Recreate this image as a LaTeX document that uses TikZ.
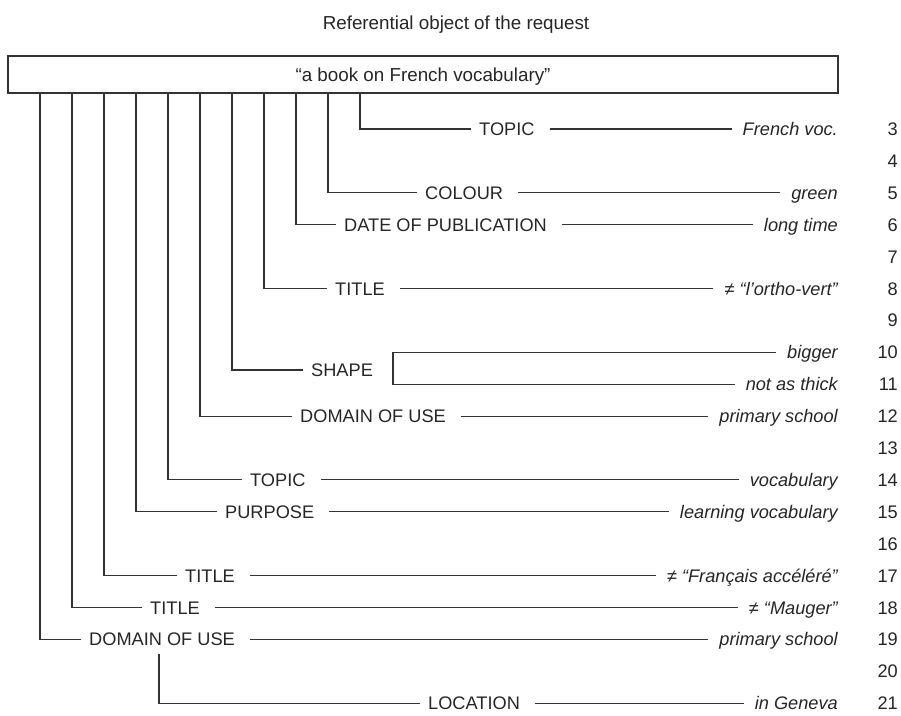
\documentclass[tikz,border=0pt]{standalone}
\usepackage{fontspec}
\setmainfont{Liberation Sans}
\begin{document}
\begin{tikzpicture}[x=1pt,y=-1pt,
  every node/.style={inner sep=0pt, text height=13pt, text depth=0pt, font=\fontsize{18.2}{21}\selectfont, text=black!85},
  lab/.style={anchor=west},
  val/.style={anchor=east, font=\fontsize{18.2}{21}\selectfont\itshape},
  num/.style={anchor=east},
  big/.style={font=\fontsize{18.8}{22}\selectfont},
  conn/.style={line width=1.1pt, draw=black!80}]
\useasboundingbox (0,0) rectangle (901,715);

\node[big] (title) at (456,22.5) {Referential object of the request};
\node[big, draw=black!80, line width=1.1pt, minimum width=830pt, minimum height=37pt] (box) at (423,74.5) {“a book on French vocabulary”};

% row numbers
\foreach \n in {3,...,21} {
  \node[num] (n\n) at (898,{33.3+31.9*\n}) {\n};
}

% labels
\node[lab] (l3)  at (479,129.0) {TOPIC};
\node[lab] (l5)  at (425,192.8) {COLOUR};
\node[lab] (l6)  at (344,224.7) {DATE OF PUBLICATION};
\node[lab] (l8)  at (335,288.5) {TITLE};
\node[lab] (l10) at (311,370) {SHAPE};
\node[lab] (l12) at (300,416.1) {DOMAIN OF USE};
\node[lab] (l14) at (250,479.9) {TOPIC};
\node[lab] (l15) at (225,511.8) {PURPOSE};
\node[lab] (l17) at (185,575.6) {TITLE};
\node[lab] (l18) at (150,607.5) {TITLE};
\node[lab] (l19) at (89,639.4)  {DOMAIN OF USE};
\node[lab] (l21) at (428,703.2) {LOCATION};

% values
\node[val] (v3)  at (838,129.0) {French voc.};
\node[val] (v5)  at (838,192.8) {green};
\node[val] (v6)  at (838,224.7) {long time};
\node[val] (v8)  at (838,288.5) {≠ “l’ortho-vert”};
\node[val] (v10) at (838,352.3) {bigger};
\node[val] (v11) at (838,384.2) {not as thick};
\node[val] (v12) at (838,416.1) {primary school};
\node[val] (v14) at (838,479.9) {vocabulary};
\node[val] (v15) at (838,511.8) {learning vocabulary};
\node[val] (v17) at (838,575.6) {≠ “Français accéléré”};
\node[val] (v18) at (838,607.5) {≠ “Mauger”};
\node[val] (v19) at (838,639.4) {primary school};
\node[val] (v21) at (838,703.2) {in Geneva};

% branch x positions
\coordinate (c3)  at (360,0);
\coordinate (c5)  at (328,0);
\coordinate (c6)  at (296,0);
\coordinate (c8)  at (264,0);
\coordinate (c10) at (232,0);
\coordinate (c12) at (200,0);
\coordinate (c14) at (168,0);
\coordinate (c15) at (136,0);
\coordinate (c17) at (104,0);
\coordinate (c18) at (72,0);
\coordinate (c19) at (40,0);
\coordinate (c21) at (159,0);
\coordinate (br)  at (393,370);

% connectors from the box to the labels
\foreach \r in {3,5,6,8,10,12,14,15,17,18,19} {
  \draw[conn] (box.south -| c\r) |- ([xshift=-8pt]l\r.west);
}
\draw[conn] ([yshift=-8pt]l19.south -| c21) |- ([xshift=-8pt]l21.west);

% connectors from the labels to the values
\foreach \r in {3,5,6,8,12,14,15,17,18,19,21} {
  \draw[conn] ([xshift=15pt]l\r.east) -- ([xshift=-11pt]v\r.west);
}
\draw[conn] ([xshift=-11pt]v10.west) -| (br) |- ([xshift=-11pt]v11.west);
\end{tikzpicture}
\end{document}
